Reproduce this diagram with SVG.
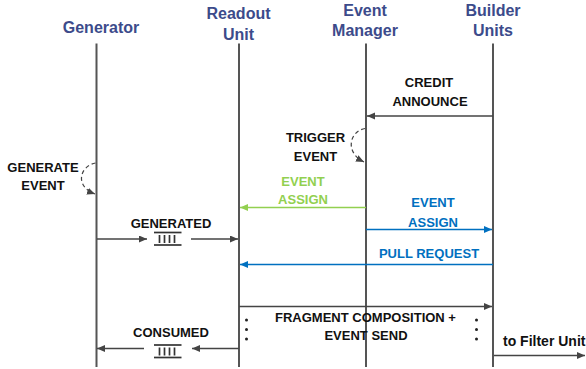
<svg xmlns="http://www.w3.org/2000/svg" width="586" height="369" viewBox="0 0 586 369">
<style>
.title{font-family:"Liberation Sans",Arial,sans-serif;font-weight:bold;font-size:16px;fill:#3c4b8b;text-anchor:middle}
.lbl{font-family:"Liberation Sans",Arial,sans-serif;font-weight:bold;font-size:13px;fill:#111;text-anchor:middle}
.green{fill:#92d050}
.blue{fill:#0070c0}
.life{stroke:#555;stroke-width:2;fill:none}
.msg{stroke:#444;stroke-width:1.3;fill:none;marker-end:url(#ah)}
.gmsg{stroke:#92d050;stroke-width:1.3;fill:none;marker-end:url(#ahg)}
.bmsg{stroke:#0070c0;stroke-width:1.3;fill:none;marker-end:url(#ahb)}
.self{stroke:#444;stroke-width:1.2;fill:none;stroke-dasharray:4 3;marker-end:url(#ah)}
.q{stroke:#333;stroke-width:1.7;fill:none}
.dot{fill:#222}
</style>
<defs>
<marker id="ah" markerUnits="userSpaceOnUse" markerWidth="9" markerHeight="8" refX="8" refY="3.5" orient="auto"><path d="M0,0 L8,3.5 L0,7 z" fill="#444"/></marker>
<marker id="ahg" markerUnits="userSpaceOnUse" markerWidth="9" markerHeight="8" refX="8" refY="3.5" orient="auto"><path d="M0,0 L8,3.5 L0,7 z" fill="#92d050"/></marker>
<marker id="ahb" markerUnits="userSpaceOnUse" markerWidth="9" markerHeight="8" refX="8" refY="3.5" orient="auto"><path d="M0,0 L8,3.5 L0,7 z" fill="#0070c0"/></marker>
<g id="queue"><line class="q" x1="0" y1="0" x2="27.5" y2="0"/><line class="q" x1="0" y1="12.5" x2="27.5" y2="12.5"/><path class="q" d="M5.5,2.5 V10.5 M10.5,2.5 V10.5 M15.5,2.5 V10.5 M20.5,2.5 V10.5" stroke-width="1.8"/></g>
</defs>
<rect width="586" height="369" fill="#fff"/>

<g id="generator">
<text class="title" x="101" y="33">Generator</text>
<line class="life" x1="96.5" y1="43.5" x2="96.5" y2="367"/>
</g>
<g id="readout">
<text class="title" x="238.5" y="18.5">Readout</text>
<text class="title" x="238.5" y="39.5">Unit</text>
<line class="life" x1="239" y1="43.5" x2="239" y2="367"/>
</g>
<g id="eventmanager">
<text class="title" x="365" y="16">Event</text>
<text class="title" x="365" y="36">Manager</text>
<line class="life" x1="366" y1="43.5" x2="366" y2="367"/>
</g>
<g id="builder">
<text class="title" x="493" y="16">Builder</text>
<text class="title" x="493" y="36">Units</text>
<line class="life" x1="493" y1="43.5" x2="493" y2="367"/>
</g>

<g id="connectors">
<line class="msg" x1="493" y1="116" x2="367" y2="116"/>
<text class="lbl" x="429" y="87">CREDIT</text>
<text class="lbl" x="430" y="106">ANNOUNCE</text>

<path class="self" d="M365,128.5 C350,131 344,152 364,162"/>
<text class="lbl" x="315.5" y="142">TRIGGER</text>
<text class="lbl" x="315.5" y="161">EVENT</text>

<path class="self" d="M95.5,163 C80,166 74,186 95,194"/>
<text class="lbl" x="43" y="172">GENERATE</text>
<text class="lbl" x="43" y="190">EVENT</text>

<line class="gmsg" x1="366" y1="207.5" x2="240" y2="207.5"/>
<text class="lbl green" x="303" y="186">EVENT</text>
<text class="lbl green" x="303" y="204">ASSIGN</text>

<line class="bmsg" x1="366" y1="229.5" x2="492" y2="229.5"/>
<text class="lbl blue" x="433" y="207">EVENT</text>
<text class="lbl blue" x="433" y="227">ASSIGN</text>

<line class="msg" x1="97" y1="239" x2="147" y2="239"/>
<use href="#queue" x="154" y="232.5"/>
<line class="msg" x1="191" y1="239" x2="238" y2="239"/>
<text class="lbl" x="171" y="228">GENERATED</text>

<line class="bmsg" x1="493" y1="264.5" x2="240" y2="264.5"/>
<text class="lbl blue" x="429" y="258">PULL REQUEST</text>

<line class="msg" x1="239" y1="306.5" x2="492" y2="306.5"/>
<text class="lbl" x="365.5" y="322">FRAGMENT COMPOSITION +</text>
<text class="lbl" x="366" y="340">EVENT SEND</text>
<circle class="dot" cx="246.5" cy="320" r="1.5"/><circle class="dot" cx="246.5" cy="329.5" r="1.5"/><circle class="dot" cx="246.5" cy="339" r="1.5"/>
<circle class="dot" cx="476.5" cy="320" r="1.5"/><circle class="dot" cx="476.5" cy="329.5" r="1.5"/><circle class="dot" cx="476.5" cy="339" r="1.5"/>

<line class="msg" x1="239" y1="348.5" x2="192" y2="348.5"/>
<use href="#queue" x="154" y="345"/>
<line class="msg" x1="144" y1="348.5" x2="97" y2="348.5"/>
<text class="lbl" x="171" y="337">CONSUMED</text>

<line class="msg" x1="494" y1="355.5" x2="585" y2="355.5"/>
<text class="lbl" x="503" y="346" style="text-anchor:start;font-size:14px">to Filter Unit</text>
</g>
</svg>
